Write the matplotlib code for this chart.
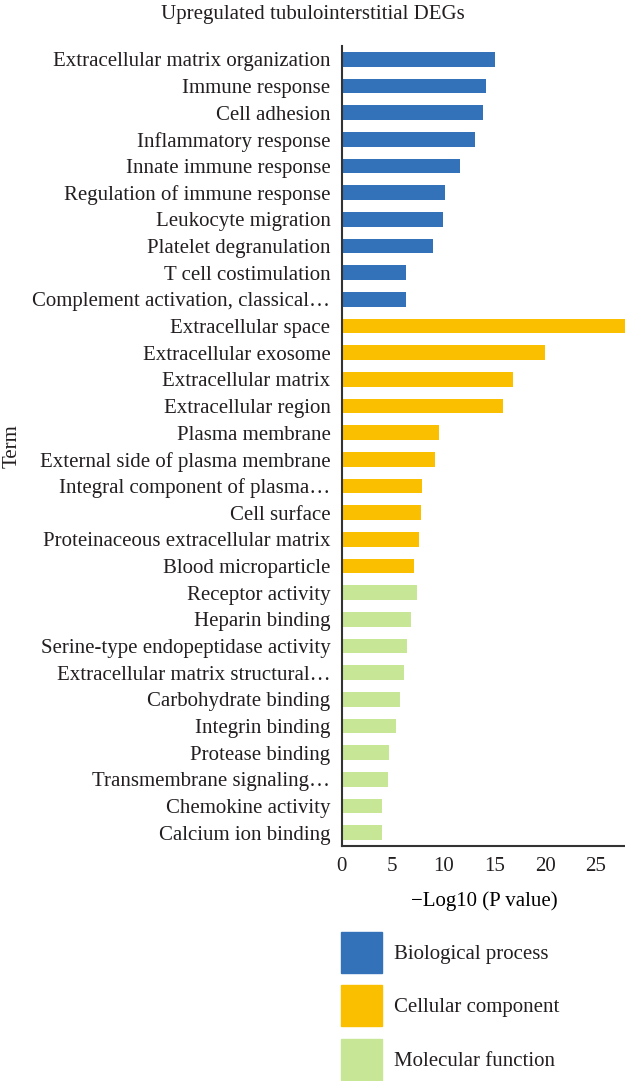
import matplotlib
matplotlib.use("Agg")
from matplotlib import pyplot as plt
from matplotlib.patches import Patch

plt.rcParams["font.family"] = ["Liberation Serif", "DejaVu Serif"]
plt.rcParams["text.color"] = "#231F20"
plt.rcParams["xtick.color"] = "#231F20"
plt.rcParams["ytick.color"] = "#231F20"

terms = [
    "Extracellular matrix organization", "Immune response", "Cell adhesion",
    "Inflammatory response", "Innate immune response",
    "Regulation of immune response", "Leukocyte migration",
    "Platelet degranulation", "T cell costimulation",
    "Complement activation, classical\u2026",
    "Extracellular space", "Extracellular exosome", "Extracellular matrix",
    "Extracellular region", "Plasma membrane",
    "External side of plasma membrane", "Integral component of plasma\u2026",
    "Cell surface", "Proteinaceous extracellular matrix", "Blood microparticle",
    "Receptor activity", "Heparin binding", "Serine-type endopeptidase activity",
    "Extracellular matrix structural\u2026", "Carbohydrate binding",
    "Integrin binding", "Protease binding", "Transmembrane signaling\u2026",
    "Chemokine activity", "Calcium ion binding",
]
bp_vals = [15.1, 14.2, 13.9, 13.1, 11.6, 10.2, 10.0, 9.0, 6.3, 6.3]
cc_vals = [29.5, 20.0, 16.85, 15.9, 9.6, 9.2, 7.95, 7.8, 7.6, 7.1]
mf_vals = [7.4, 6.8, 6.4, 6.15, 5.75, 5.35, 4.65, 4.55, 4.0, 4.0]
categories = ["Biological process", "Cellular component", "Molecular function"]
colors = ["#3372B9", "#FAC000", "#C8E796"]

FS = 15

fig = plt.figure(figsize=(6.25, 10.81), dpi=100)
ax = fig.add_axes([341.5 / 625, 1 - 846 / 1081, 285 / 625, 800 / 1081])

groups = [bp_vals, cc_vals, mf_vals]
pos = 0
for vals, col in zip(groups, colors):
    ys = list(range(pos, pos + len(vals)))
    ax.barh(ys, vals, height=0.55, color=col)
    pos += len(vals)

ax.set_yticks(range(len(terms)))
ax.set_yticklabels(terms, fontsize=FS)
ax.set_ylim(len(terms) - 0.5, -0.5)
ax.set_xlim(0, 28)
ax.set_xticks([0, 5, 10, 15, 20, 25])
ax.tick_params(axis="x", labelsize=FS, length=0, pad=8)
ax.tick_params(axis="y", length=0, pad=8)
for s in ["top", "right"]:
    ax.spines[s].set_visible(False)
for s in ["left", "bottom"]:
    ax.spines[s].set_color("#333333")
    ax.spines[s].set_linewidth(1.5)

ax.set_xlabel("\u2212Log10 (P value)", fontsize=FS, labelpad=11)
fig.text(12 / 625, 1 - 446 / 1081, "Term", rotation=90, fontsize=FS,
         ha="center", va="center")
fig.text(313 / 625, 1 - 15 / 1081, "Upregulated tubulointerstitial DEGs",
         fontsize=FS, ha="center", va="center")

handles = [Patch(color=c, label=l) for c, l in zip(colors, categories)]
fig.legend(handles=handles, loc="upper left",
           bbox_to_anchor=(341 / 625, 1 - 932 / 1081), frameon=False,
           fontsize=FS, borderpad=0, borderaxespad=0,
           handlelength=1.97, handleheight=2.65, labelspacing=0.6,
           handletextpad=0.55)

fig.savefig("out.png", dpi=100)
